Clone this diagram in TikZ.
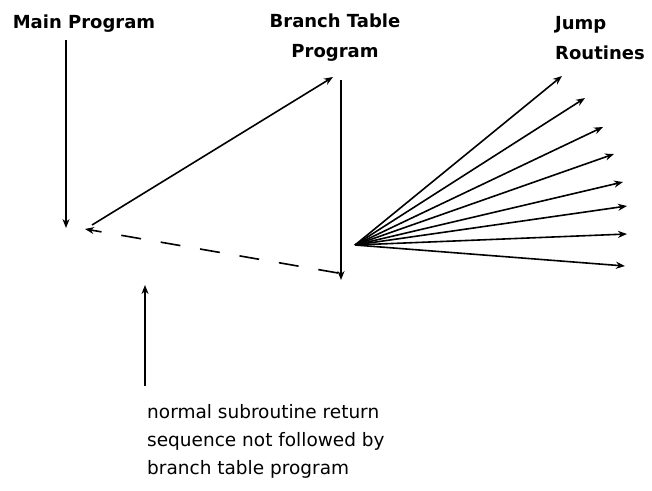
\documentclass[tikz,border=0pt]{standalone}
\usepackage{fontspec}
\setmainfont{DejaVu Sans}
\usetikzlibrary{arrows.meta}

\tikzset{
  flow/.style={line width=1.6pt, -{Stealth[length=9pt,width=7pt]}},
  ret/.style={flow, dash pattern=on 20pt off 20pt},
  title/.style={font=\fontsize{18}{30}\selectfont\bfseries, inner sep=0pt},
  note/.style={font=\fontsize{18.5}{28}\selectfont, align=left, inner sep=0pt, anchor=north west}
}

\begin{document}
\begin{tikzpicture}[x=1pt, y=-1pt]
                \useasboundingbox (0,0) rectangle (652,490);

                % Nodes
                \node[title] (main) at (84,24) {Main Program};
                \node[title, align=center] (btp) at (335,38) {Branch Table\\Program};
                \node[title, align=left, anchor=west] (jump) at (555,38) {Jump\\Routines};
                \node[note] (why) at (147,404) {normal subroutine return\\sequence not followed by\\branch table program};

                \coordinate (mtop) at (66,40);
                \coordinate (mend) at (66,228);
                \coordinate (call) at (92,225);
                \coordinate (entry) at (333,77);
                \coordinate (btop) at (341,80);
                \coordinate (bend) at (341,280);
                \coordinate (bret) at (338,273);
                \coordinate (back) at (85,229);
                \coordinate (fan) at (355,245);
                \coordinate (j1) at (562,76);
                \coordinate (j2) at (585,98);
                \coordinate (j3) at (603,127);
                \coordinate (j4) at (614,154);
                \coordinate (j5) at (623,182);
                \coordinate (j6) at (627,206);
                \coordinate (j7) at (627,234);
                \coordinate (j8) at (625,266);
                \coordinate (ntop) at (145,386);
                \coordinate (nend) at (145,285);

                % Edges
                \draw[flow] (mtop)--(mend);
                \draw[flow] (call)--(entry);
                \draw[flow] (btop)--(bend);
                \draw[ret] (bret)--(back);
                \foreach \j in {j1,j2,j3,j4,j5,j6,j7,j8}
                    \draw[flow] (fan)--(\j);
                \draw[flow] (ntop)--(nend);
            \end{tikzpicture}
\end{document}
